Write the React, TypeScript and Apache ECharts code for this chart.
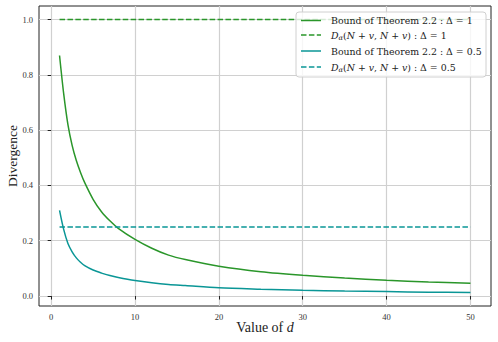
import React, { useEffect, useRef } from "react";
import * as echarts from "echarts";

const dValues = [1, 1.5, 2, 2.5, 3, 3.5, 4, 5, 6, 7, 8, 10, 12, 14, 16, 20, 25, 30, 35, 40, 45, 50];
const boundDelta1 = [0.87, 0.73, 0.62, 0.545, 0.49, 0.447, 0.41, 0.35, 0.305, 0.272, 0.245, 0.205, 0.173, 0.148, 0.132, 0.108, 0.088, 0.075, 0.065, 0.057, 0.051, 0.046];
const boundDelta05 = [0.31, 0.24, 0.19, 0.16, 0.138, 0.122, 0.11, 0.094, 0.083, 0.074, 0.067, 0.056, 0.048, 0.042, 0.038, 0.03, 0.025, 0.021, 0.018, 0.016, 0.014, 0.013];
const dRange = [1, 50];
const divDelta1 = [1.0, 1.0];
const divDelta05 = [0.25, 0.25];
const xTicks = [0, 10, 20, 30, 40, 50];
const yTicks = [0, 0.2, 0.4, 0.6, 0.8, 1.0];
const seriesNames = [
  "Bound of Theorem 2.2 : Δ = 1",
  "D_alpha : Δ = 1",
  "Bound of Theorem 2.2 : Δ = 0.5",
  "D_alpha : Δ = 0.5",
];

const GREEN = "#2a962a";
const TEAL = "#0a9696";
const FONT = "Liberation Serif";
const LFONT = "DejaVu Serif";

export default function App() {
  const ref = useRef<HTMLDivElement>(null);
  useEffect(() => {
    document.body.style.margin = "0";
    const chart = echarts.init(ref.current!, null, { renderer: "svg" });
    const pair = (xs: number[], ys: number[]) => xs.map((x, i) => [x, ys[i]]);
    const colors = [GREEN, GREEN, TEAL, TEAL];
    const dashed = [false, true, false, true];
    const rowsY = [20.5, 35, 51, 67];
    const legendText = (name: string) => {
      if (name.startsWith("D_alpha")) {
        const rest = name.replace("D_alpha", "");
        return "{it|D}{sub|α}({it|N} + {it|v}, {it|N} + {it|v})" + rest;
      }
      return name;
    };
    const legendEls: any[] = [
      {
        type: "rect",
        shape: { x: 296, y: 12, width: 190, height: 65, r: 3 },
        style: { fill: "rgba(255,255,255,0.8)", stroke: "#d0d0d0", lineWidth: 1 },
        z: 100,
      },
    ];
    seriesNames.forEach((n, i) => {
      legendEls.push({
        type: "line",
        shape: { x1: 301, y1: rowsY[i], x2: 321, y2: rowsY[i] },
        style: { stroke: colors[i], lineWidth: 1.5, lineDash: dashed[i] ? [5.5, 2.4] : null },
        z: 101,
      });
      legendEls.push({
        type: "text",
        x: 331,
        y: rowsY[i],
        z: 101,
        style: {
          text: legendText(n),
          fontFamily: LFONT,
          fontSize: 9.4,
          fill: "#222",
          verticalAlign: "middle",
          align: "left",
          rich: {
            it: { fontFamily: LFONT, fontStyle: "italic", fontSize: 9.4, fill: "#222" },
            sub: { fontFamily: LFONT, fontStyle: "italic", fontSize: 6.8, fill: "#222", padding: [5, 0, 0, 0] },
          },
        },
      });
    });
    chart.setOption({
      animation: false,
      grid: { left: 39, right: 7, top: 6, bottom: 36, show: true, borderColor: "#222", borderWidth: 1, backgroundColor: "transparent", containLabel: false, outerBoundsMode: "none" },
      xAxis: {
        type: "value",
        min: -1.45,
        max: 52.45,
        name: "Value of {it|d}",
        nameLocation: "middle",
        nameGap: 14,
        nameMoveOverlap: false,
        nameTextStyle: { fontFamily: FONT, fontSize: 14, color: "#222", rich: { it: { fontFamily: FONT, fontStyle: "italic", fontSize: 14, color: "#222" } } },
        axisLine: { show: false },
        axisTick: { show: true, customValues: xTicks, length: 3.5, lineStyle: { color: "#222" } },
        axisLabel: { customValues: xTicks, fontFamily: FONT, fontSize: 8.5, color: "#333", margin: 6, formatter: (v: number) => String(Math.round(v)) },
        splitLine: { show: true, lineStyle: { color: "#d0d0d0", width: 1.2 } },
      },
      yAxis: {
        type: "value",
        min: -0.036,
        max: 1.049,
        name: "Divergence",
        nameLocation: "middle",
        nameGap: 20,
        nameMoveOverlap: false,
        nameTextStyle: { fontFamily: FONT, fontSize: 13.5, color: "#222" },
        axisLine: { show: false },
        axisTick: { show: true, customValues: yTicks, length: 3.5, lineStyle: { color: "#222" } },
        axisLabel: { customValues: yTicks, fontFamily: FONT, fontSize: 8.5, color: "#333", margin: 6, formatter: (v: number) => v.toFixed(1) },
        splitLine: { show: true, lineStyle: { color: "#d0d0d0", width: 1.2 } },
      },
      graphic: legendEls,
      series: [
        { name: seriesNames[0], type: "line", data: pair(dValues, boundDelta1), showSymbol: false, symbol: "none", smooth: 0.3, lineStyle: { color: GREEN, width: 1.5 } },
        { name: seriesNames[1], type: "line", data: pair(dRange, divDelta1), showSymbol: false, symbol: "none", lineStyle: { color: GREEN, width: 1.5, type: [5.5, 2.4] } },
        { name: seriesNames[2], type: "line", data: pair(dValues, boundDelta05), showSymbol: false, symbol: "none", smooth: 0.3, lineStyle: { color: TEAL, width: 1.5 } },
        { name: seriesNames[3], type: "line", data: pair(dRange, divDelta05), showSymbol: false, symbol: "none", lineStyle: { color: TEAL, width: 1.5, type: [5.5, 2.4] } },
      ],
    });
    return () => chart.dispose();
  }, []);
  return <div ref={ref} style={{ width: 498, height: 342 }} />;
}
